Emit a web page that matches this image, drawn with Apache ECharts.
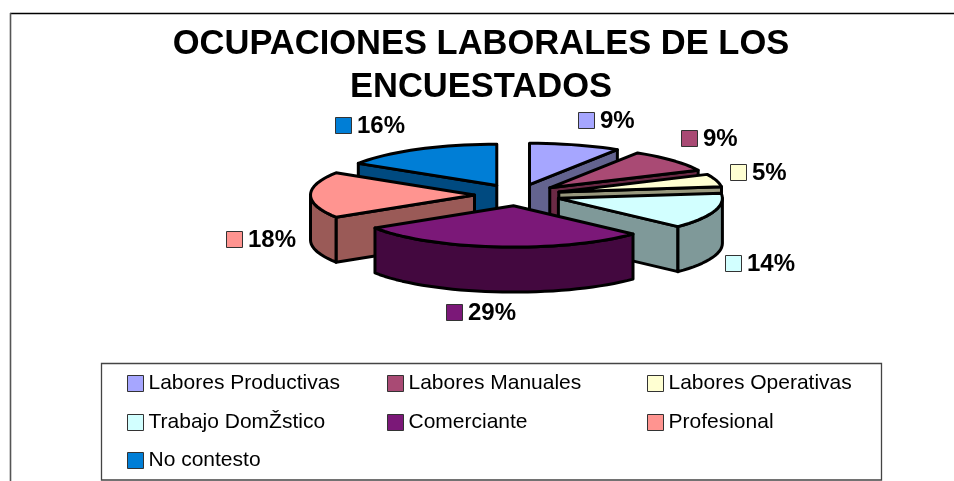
<!DOCTYPE html>
<html><head><meta charset="utf-8">
<style>html,body{margin:0;padding:0;background:#fff}#c{width:954px;height:481px}</style>
<script src="https://cdn.jsdelivr.net/npm/echarts@6/dist/echarts.min.js"></script>
</head><body><div id="c"></div>
<script>
const categories = ['Labores Productivas','Labores Manuales','Labores Operativas','Trabajo DomŽstico','Comerciante','Profesional','No contesto'];
const values = [9,9,5,14,29,18,16];
const topColors = ['#A6A6FF','#A94A74','#FFFFD2','#D2FFFF','#7B1878','#FF9490','#007ED6'];
const wallColors = ['#63638F','#6B2A45','#99997E','#7F9999','#43083F','#9A5A57','#004A80'];
const drawOrder = [6,5,0,1,2,3,4];
const labelAnchors = [[578,112],[681,130],[730,164],[725,255],[446,304],[226,231],[335,117]];

const CX=517.5, CY=195, RX=164, K=0.252, DEPTH=45, EXPLODE=43;
const total = values.reduce((a,b)=>a+b,0);
const rad = d=>d*Math.PI/180;
function slice(i){
  let before=0; for(let j=0;j<i;j++) before+=values[j];
  return {a0:before/total*360, a1:(before+values[i])/total*360};
}
function rim(ax,ay,a){return [ax+RX*Math.sin(rad(a)), ay-RX*K*Math.cos(rad(a))];}
function arc(ax,ay,a0,a1,off){
  const n=Math.max(2,Math.ceil((a1-a0)/3)),p=[];
  for(let s=0;s<=n;s++){const q=rim(ax,ay,a0+(a1-a0)*s/n);p.push([q[0],q[1]+(off||0)]);}
  return p;
}
function renderSlice(i){
  const {a0,a1}=slice(i), mid=(a0+a1)/2;
  const ax=CX+EXPLODE*Math.sin(rad(mid)), ay=CY-EXPLODE*K*Math.cos(rad(mid));
  const stroke={stroke:'#000',lineWidth:3,lineJoin:'round'};
  const kids=[];
  const wall=p=>kids.push({type:'polygon',shape:{points:p},style:Object.assign({fill:wallColors[i]},stroke)});
  const radialWall=a=>{const r=rim(ax,ay,a);wall([[ax,ay],r,[r[0],r[1]+DEPTH],[ax,ay+DEPTH]]);};
  if(Math.sin(rad(a0))<0) radialWall(a0);
  if(Math.sin(rad(a1))>0) radialWall(a1);
  const w0=Math.max(a0,90), w1=Math.min(a1,270);
  if(w1>w0){
    const t=arc(ax,ay,w0,w1), b=arc(ax,ay,w0,w1,DEPTH).reverse();
    wall(t.concat(b));
  }
  kids.push({type:'polygon',shape:{points:[[ax,ay]].concat(arc(ax,ay,a0,a1))},style:Object.assign({fill:topColors[i]},stroke)});
  const [lx,ly]=labelAnchors[i];
  kids.push({type:'rect',shape:{x:lx+0.5,y:ly+0.5,width:16,height:16},style:{fill:topColors[i],stroke:'#333',lineWidth:1}});
  kids.push({type:'text',style:{x:lx+22,y:ly+9.5,text:Math.round(values[i]/total*100)+'%',fill:'#000',
    font:'bold 24px "Liberation Sans", Arial, sans-serif',verticalAlign:'middle',align:'left'}});
  return {type:'group',children:kids};
}
const legendCols=[127,387,647], legendRows=[373,412,450];
const option={
  animation:false,
  backgroundColor:'#fff',
  title:{text:'OCUPACIONES LABORALES DE LOS\nENCUESTADOS',left:476,top:18,textAlign:'center',
    textStyle:{fontFamily:'"Liberation Sans", Arial, sans-serif',fontWeight:'bold',fontSize:34.5,lineHeight:43,color:'#000'}},
  legend:categories.map((n,i)=>({data:[n],left:legendCols[i%3],top:legendRows[Math.floor(i/3)],padding:0,
    icon:'rect',itemWidth:16,itemHeight:16,itemGap:0,selectedMode:false,
    itemStyle:{borderColor:'#333',borderWidth:1},
    textStyle:{fontFamily:'"Liberation Sans", Arial, sans-serif',fontSize:21,color:'#000'}})),
  graphic:[
    {type:'line',silent:true,z:-1,shape:{x1:10,y1:13.5,x2:954,y2:13.5},style:{stroke:'#000',lineWidth:1.5}},
    {type:'line',silent:true,z:-1,shape:{x1:10.5,y1:13,x2:10.5,y2:481},style:{stroke:'#555',lineWidth:1.6}},
    {type:'rect',silent:true,z:-1,shape:{x:101.5,y:363.5,width:780,height:116.5},style:{fill:'#fff',stroke:'#444',lineWidth:1.3}}
  ],
  series:drawOrder.map(i=>({
    type:'custom',name:categories[i],coordinateSystem:'none',
    itemStyle:{color:topColors[i]},silent:true,clip:false,
    data:[values[i]],
    renderItem:()=>renderSlice(i)
  }))
};
echarts.init(document.getElementById('c'),null,{renderer:'canvas'}).setOption(option);
</script></body></html>
